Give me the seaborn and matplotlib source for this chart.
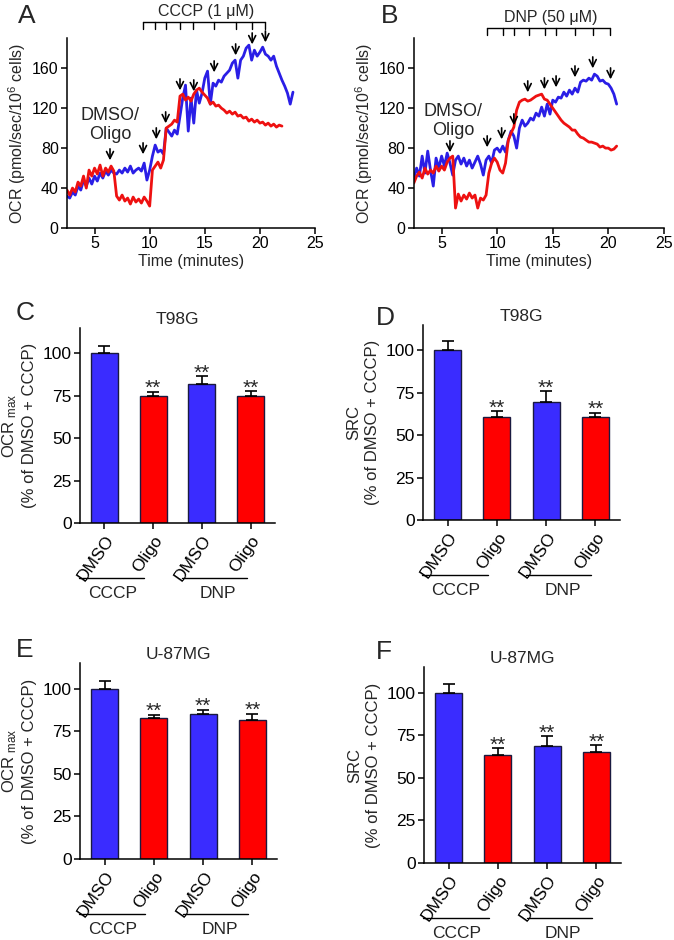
import numpy as np
import pandas as pd
import matplotlib
matplotlib.use("Agg")
import matplotlib.pyplot as plt
import seaborn as sns

# ---- time course traces (OCR, pmol/sec/10^6 cells), sampled every 0.25 min from 2.5 min ----
t_start = 2.5
t_step = 0.25

a_dmso = [32, 30, 36, 33, 42, 38, 48, 42, 50, 44, 52, 47, 55, 50, 57, 53, 58, 55, 54, 58,
          55, 60, 56, 62, 55, 58, 60, 57, 65, 48, 58, 72, 83, 76, 78, 74, 100, 96, 92, 98,
          94, 112, 130, 143, 97, 130, 105, 138, 125, 135, 150, 157, 124, 145, 142, 148, 146, 152, 155, 158,
          165, 168, 150, 168, 172, 180, 183, 168, 178, 172, 176, 181, 174, 172, 168, 172, 162, 155, 148, 142,
          135, 124, 136]
a_oligo = [38, 33, 40, 36, 46, 42, 52, 40, 58, 52, 60, 54, 63, 52, 60, 56, 62, 57, 32, 28,
           33, 27, 30, 24, 31, 26, 29, 25, 31, 27, 22, 58, 62, 66, 60, 68, 100, 102, 104, 108,
           106, 132, 134, 128, 131, 127, 134, 138, 140, 136, 133, 130, 124, 126, 122, 123, 120, 118, 115, 117,
           114, 116, 112, 113, 110, 111, 107, 109, 106, 108, 105, 106, 103, 105, 102, 104, 101, 103, 102]

b_dmso = [50, 60, 52, 72, 55, 77, 58, 42, 70, 60, 72, 62, 75, 65, 53, 68, 72, 64, 70, 62,
          68, 60, 66, 72, 64, 53, 68, 72, 65, 78, 80, 76, 82, 76, 88, 97, 92, 80, 100, 108,
          102, 105, 110, 108, 115, 112, 121, 112, 124, 114, 128, 126, 131, 130, 136, 132, 138, 134, 140, 136,
          146, 148, 147, 150, 148, 154, 152, 147, 148, 145, 144, 140, 134, 124]
b_oligo = [45, 52, 56, 50, 60, 54, 58, 55, 62, 57, 62, 58, 66, 70, 72, 20, 34, 27, 33, 29,
           35, 30, 33, 20, 30, 28, 33, 55, 65, 70, 66, 58, 55, 65, 88, 95, 101, 118, 126, 128,
           129, 127, 128, 130, 132, 133, 134, 129, 128, 124, 120, 116, 112, 108, 105, 103, 101, 98, 98, 94,
           91, 90, 88, 86, 86, 85, 84, 81, 82, 80, 80, 78, 79, 82]

# additions (arrows) and bracket ticks
a_arrow_t = [6.4, 9.4, 10.6, 11.45, 12.75, 14.0, 15.85, 17.8, 19.3, 20.5]
a_arrow_y = [65, 71, 86, 102, 135, 134, 153, 170, 181, 183]
a_bracket_t = [9.38, 10.5, 11.47, 12.76, 13.97, 15.87, 17.84, 19.32, 20.47]

b_arrow_t = [5.75, 9.1, 10.4, 11.5, 12.75, 14.25, 15.3, 17.0, 18.6, 20.2]
b_arrow_y = [73, 78, 86, 100, 133, 136, 138, 148, 157, 146]
b_bracket_t = [9.12, 10.5, 11.53, 12.82, 14.26, 15.29, 17.03, 18.59, 20.19]

# ---- bar panels ----
bar_labels = ["DMSO", "Oligo", "DMSO", "Oligo"]
bar_groups = ["CCCP", "CCCP", "DNP", "DNP"]
bar_sig = ["", "**", "**", "**"]

c_mean = [100, 75, 82, 75]
c_err = [4.5, 2.5, 4.7, 2.8]
d_mean = [100, 61, 69.5, 60.5]
d_err = [5.5, 3.2, 6.5, 2.9]
e_mean = [100, 82.7, 85.1, 81.8]
e_err = [4.3, 2.0, 2.6, 3.5]
f_mean = [100, 63.5, 68.4, 65.2]
f_err = [5.0, 3.7, 6.0, 4.1]

blue_line = "#2a1ee6"
red_line = "#ee1111"
blue_bar = "#3a2cff"
red_bar = "#ff0000"

sns.set_style("ticks")
plt.rcParams["font.family"] = ["Liberation Sans", "DejaVu Sans"]
plt.rcParams["mathtext.fontset"] = "custom"
plt.rcParams["mathtext.rm"] = "Liberation Sans"
plt.rcParams["mathtext.it"] = "Liberation Sans:italic"
plt.rcParams["axes.linewidth"] = 1.1
plt.rcParams["xtick.major.width"] = 1.1
plt.rcParams["ytick.major.width"] = 1.1
plt.rcParams["xtick.major.size"] = 4
plt.rcParams["ytick.major.size"] = 4
plt.rcParams["xtick.color"] = "black"
plt.rcParams["ytick.color"] = "black"
plt.rcParams["axes.edgecolor"] = "black"

fig = plt.figure(figsize=(6.74, 9.40), dpi=100)


def trace_df(dmso, oligo):
    rows = []
    for name, vals in (("DMSO", dmso), ("Oligo", oligo)):
        t = t_start + t_step * np.arange(len(vals))
        rows.append(pd.DataFrame({"t": t, "ocr": vals, "cond": name}))
    return pd.concat(rows, ignore_index=True)


def time_panel(rect, dmso, oligo, arrow_t, arrow_y, br_t, br_y, br_label, text_xy, letter, letter_xy):
    ax = fig.add_axes(rect)
    df = trace_df(dmso, oligo)
    sns.lineplot(data=df, x="t", y="ocr", hue="cond", palette={"DMSO": blue_line, "Oligo": red_line},
                 hue_order=["DMSO", "Oligo"], lw=2.0, legend=False, ax=ax)
    ax.set_xlim(2.5, 25)
    ax.set_ylim(0, 190)
    ax.set_xticks([5, 10, 15, 20, 25])
    ax.set_yticks([0, 40, 80, 120, 160])
    ax.tick_params(labelsize=11.5, pad=2)
    ax.set_xlabel("Time (minutes)", fontsize=11.5, labelpad=2)
    ax.set_ylabel("OCR (pmol/sec/10$^{6}$ cells)", fontsize=11.5, labelpad=3)
    sns.despine(ax=ax)
    for t, y in zip(arrow_t, arrow_y):
        ax.annotate("", xy=(t, y), xytext=(t, y + 17),
                    arrowprops=dict(arrowstyle="->,head_length=0.5,head_width=0.25", color="black", lw=1.2))
    ax.plot([br_t[0], br_t[-1]], [br_y, br_y], color="black", lw=1, clip_on=False)
    for t in br_t:
        ax.plot([t, t], [br_y, br_y - 7], color="black", lw=1, clip_on=False)
    ax.text((br_t[0] + br_t[-1]) / 2 + 0.2, br_y + 3, br_label, ha="center", va="bottom", fontsize=11.5)
    ax.text(text_xy[0], text_xy[1], "DMSO/\nOligo", ha="center", va="center", fontsize=13, linespacing=1.1)
    fig.text(letter_xy[0], letter_xy[1], letter, fontsize=19, ha="center", va="center")
    return ax


def bar_panel(rect, means, errs, title, ylabel, letter, letter_xy):
    ax = fig.add_axes(rect)
    keys = [g + " " + l for g, l in zip(bar_groups, bar_labels)]
    sns.barplot(x=keys, y=means, hue=keys, palette=[blue_bar, red_bar, blue_bar, red_bar],
                saturation=1, legend=False, width=0.55, edgecolor="#1a1a40", linewidth=1.0, ax=ax)
    xs = np.arange(len(means))
    ax.errorbar(xs, means, yerr=[np.zeros(len(errs)), errs], fmt="none", ecolor="black",
                elinewidth=1.2, capsize=4.5, capthick=1.2, zorder=1)
    for x, m, e, s in zip(xs, means, errs, bar_sig):
        if s:
            ax.text(x, m + e - 1.5, s, ha="center", va="baseline", fontsize=15)
    ax.set_xlim(-0.5, 3.5)
    ax.set_ylim(0, 115)
    ax.set_yticks([0, 25, 50, 75, 100])
    ax.set_xticks(xs)
    ax.set_xticklabels(bar_labels, rotation=55, ha="right", rotation_mode="anchor", fontsize=12.5)
    ax.tick_params(axis="y", labelsize=12.5, pad=2)
    ax.tick_params(axis="x", pad=3)
    ax.set_xlabel("")
    ax.set_ylabel(ylabel, fontsize=12, labelpad=4, linespacing=1.3)
    ax.set_title(title, fontsize=12.5, pad=3)
    sns.despine(ax=ax)
    trans = ax.get_xaxis_transform()
    for x0, x1, xc, name in ((-0.52, 0.82, 0.16, "CCCP"), (1.6, 2.92, 2.33, "DNP")):
        ax.plot([x0, x1], [-0.28, -0.28], transform=trans, color="black", lw=1, clip_on=False)
        ax.text(xc, -0.36, name, transform=trans, ha="center", va="center", fontsize=12.5)
    fig.text(letter_xy[0], letter_xy[1], letter, fontsize=19, ha="center", va="center")
    return ax


time_panel([0.0994, 0.7574, 0.368, 0.202], a_dmso, a_oligo, a_arrow_t, a_arrow_y,
           a_bracket_t, 206, "CCCP (1 \u03bcM)", (6.4, 103), "A", (27 / 674, 1 - 16 / 940))
time_panel([0.614, 0.7574, 0.371, 0.202], b_dmso, b_oligo, b_arrow_t, b_arrow_y,
           b_bracket_t, 200, "DNP (50 \u03bcM)", (6.05, 107), "B", (390 / 674, 1 - 16 / 940))

ocr_label = "OCR$_{\\mathrm{\\ max}}$\n(% of DMSO + CCCP)"
src_label = "SRC\n(% of DMSO + CCCP)"
bar_panel([0.1187, 0.4436, 0.2893, 0.2074], c_mean, c_err, "T98G", ocr_label, "C", (25 / 674, 1 - 313 / 940))
bar_panel([0.6276, 0.4468, 0.2923, 0.2074], d_mean, d_err, "T98G", src_label, "D", (385 / 674, 1 - 318 / 940))
bar_panel([0.1187, 0.0862, 0.2923, 0.2085], e_mean, e_err, "U-87MG", ocr_label, "E", (25 / 674, 1 - 650 / 940))
bar_panel([0.629, 0.0819, 0.2923, 0.2085], f_mean, f_err, "U-87MG", src_label, "F", (384 / 674, 1 - 652 / 940))

fig.savefig("out.png", dpi=100)
